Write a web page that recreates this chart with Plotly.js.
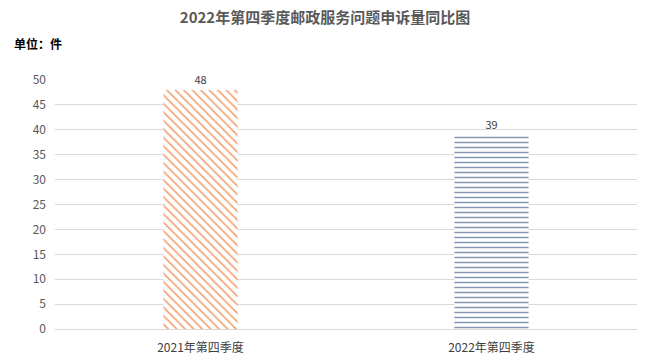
<!DOCTYPE html>
<html>
<head>
<meta charset="utf-8">
<script src="https://cdn.plot.ly/plotly-3.0.1.min.js"></script>
<style>html,body{margin:0;padding:0;background:#fff;}#chart{width:650px;height:361px;}</style>
</head>
<body>
<div id="chart"></div>
<script>
const categories = ["2021年第四季度", "2022年第四季度"];
const values = [48, 39];
const yTicks = [0, 5, 10, 15, 20, 25, 30, 35, 40, 45, 50];

const font = '"Noto Sans CJK SC", "Liberation Sans", sans-serif';

const traces = [
  {
    type: 'bar', x: [categories[0]], y: [values[0]], width: 0.255,
    text: [String(values[0])], textposition: 'outside', cliponaxis: false,
    textfont: {size: 11, color: '#404040', family: font},
    marker: {color: '#ffffff', line: {width: 0},
      pattern: {shape: '\\', fgcolor: '#F2A477', bgcolor: '#ffffff', size: 6, solidity: 0.28}},
    hoverinfo: 'none'
  },
  {
    type: 'bar', x: [categories[1]], y: [values[1]], width: 0.255,
    text: [String(values[1])], textposition: 'outside', cliponaxis: false,
    textfont: {size: 11, color: '#404040', family: font},
    marker: {color: '#ffffff', line: {width: 0},
      pattern: {shape: '-', fgcolor: '#8497B0', bgcolor: '#ffffff', size: 5, solidity: 0.3}},
    hoverinfo: 'none'
  }
];

const layout = {
  width: 650, height: 361,
  margin: {l: 55, r: 13, t: 80, b: 32},
  paper_bgcolor: '#ffffff', plot_bgcolor: '#ffffff',
  showlegend: false,
  bargap: 0.75,
  title: {text: '<b>2022年第四季度邮政服务问题申诉量同比图</b>', x: 0.5, xanchor: 'center', y: 0.95, yanchor: 'middle',
    font: {family: font, size: 15, color: '#595959'}},
  xaxis: {type: 'category', showgrid: false, zeroline: false, showline: true, linecolor: '#d9d9d9', linewidth: 1,
    ticks: '', ticklabelstandoff: 8, tickfont: {family: font, size: 12, color: '#404040'}},
  yaxis: {range: [0, 50], tickvals: yTicks, showgrid: true, gridcolor: '#d9d9d9', gridwidth: 1, zeroline: false,
    ticks: '', ticklabelstandoff: 8, tickfont: {family: font, size: 12, color: '#595959'}},
  annotations: [{text: '<b>单位：件</b>', xref: 'paper', yref: 'paper', x: -0.074, y: 1.145, xanchor: 'left', yanchor: 'middle',
    showarrow: false, font: {family: font, size: 12, color: '#000000'}}]
};

Plotly.newPlot('chart', traces, layout, {displayModeBar: false, staticPlot: true});
</script>
</body>
</html>
